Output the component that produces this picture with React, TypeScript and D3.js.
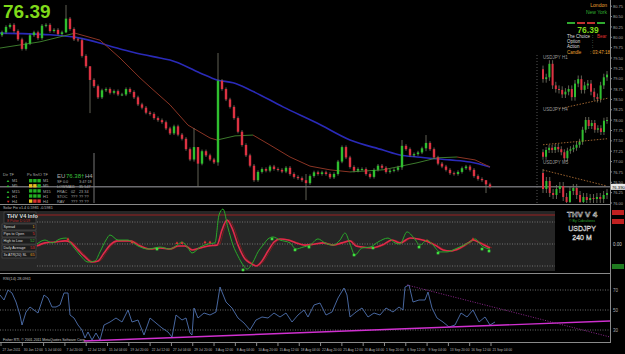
import * as d3 from "d3";

// main price candles (H4), open of first candle then closes
const firstOpen = 80.05;
const closes = [
  80.12, 80.25, 80.3, 80.15, 79.95, 79.72, 79.85, 80.05, 80.12, 79.98,
  80.28, 80.3, 80.15, 80.18, 80.08, 80.12, 80.45, 80.2, 79.95, 79.93,
  79.55, 79.3, 78.97, 78.82, 78.55, 78.72, 78.75, 78.66, 78.7, 78.62,
  78.62, 78.75, 78.68, 78.55, 78.38, 78.3, 78.18, 78.15, 78.05, 78.0,
  77.95, 77.8, 77.68, 77.85, 77.65, 77.55, 77.3, 77.05, 77.35, 76.95,
  77.25, 77.15, 77.05, 76.98, 78.95, 78.75, 78.5, 78.32, 78.05, 77.72,
  77.4, 77.15, 76.9, 76.55, 76.75, 76.82, 76.78, 76.88, 76.82, 76.8,
  76.76, 76.85, 76.7, 76.63, 76.6, 76.55, 76.48, 76.65, 76.74, 76.7,
  76.74, 76.7, 76.62, 76.7, 77.0, 77.35, 77.1, 76.87, 76.78, 76.82,
  76.82, 76.7, 76.63, 76.8, 76.9, 76.85, 76.75, 76.78, 76.8, 76.86,
  77.38, 77.3, 77.15, 77.18, 77.22, 77.32, 77.45, 77.3, 77.1, 76.95,
  76.88, 76.8, 76.72, 76.7, 76.75, 76.84, 76.88, 76.8, 76.65, 76.58,
  76.55, 76.45, 76.39,
];
// [candle, high, low] for the long shadows
const longWicks: [number, number, number][] = [
  [16, 80.78, 80.1], [22, 79.3, 78.17], [48, 77.81, 77.0], [49, 77.2, 76.39],
  [54, 79.62, 76.9], [76, 76.7, 76.07], [100, 77.52, 76.8], [106, 77.64, 77.25],
  [121, 76.55, 76.24],
];
const maSlow: [number, number][] = [
  [-0.5, 80.1], [12, 80.06], [19.5, 79.98], [26.25, 79.81], [32.75, 79.64], [39.5, 79.5],
  [42, 79.45], [49.5, 79.14], [53.75, 78.97], [57.75, 78.9], [62, 78.73], [70.25, 78.32],
  [78.75, 77.93], [87, 77.52], [95.25, 77.28], [99.5, 77.16], [103.75, 77.11], [112, 77.04],
  [117, 76.99], [122, 76.87],
];
const maFast: [number, number][] = [
  [-0.5, 79.74], [9.5, 79.89], [18.25, 80.1], [24.5, 79.93], [29.5, 79.5], [34.5, 79.02],
  [37, 78.8], [42, 78.37], [46.5, 77.88], [52, 77.57], [53.75, 77.52], [58.25, 77.62],
  [62.75, 77.64], [67, 77.4], [72, 77.11], [77, 76.89], [82, 76.8], [87, 76.75],
  [95.25, 76.8], [103.75, 76.97], [108.75, 77.09], [113.75, 77.11], [118.25, 77.04], [122, 76.87],
];
const priceTicks = d3.range(76.0, 80.8, 0.25);
const lastPrice = 76.39;

// mini charts on the right
const mini1Open = 76.72;
const mini1 = [76.61, 76.63, 76.78, 76.54, 76.5, 76.49, 76.44, 76.47, 76.5, 76.41, 76.56, 76.61, 76.49, 76.54, 76.56, 76.47, 76.41, 76.39, 76.54, 76.63, 76.66];
const mini2Open = 76.39;
const mini2 = [76.33, 76.42, 76.45, 76.42, 76.46, 76.43, 76.39, 76.31, 76.41, 76.43, 76.45, 76.49, 76.53, 76.69, 76.82, 76.74, 76.78, 76.69, 76.71, 76.66, 76.81, 76.82];
const mini3Open = 76.69;
const mini3 = [76.53, 76.61, 76.49, 76.47, 76.53, 76.56, 76.45, 76.4, 76.51, 76.54, 76.47, 76.4, 76.45, 76.42, 76.44, 76.43, 76.45, 76.43, 76.47, 76.49];

// THV oscillator, [candle, value]
const thvFast: [number, number][] = [
  [8.75, 0], [10.75, 18], [12.5, 5], [14.5, 23], [16, 27], [17.5, -5], [19.5, -50], [21.5, -82],
  [23.25, -77], [24.5, -36], [26, 18], [27, 41], [29, 18], [31.5, 18], [34, -9], [36.5, -23],
  [39.5, -14], [42, -23], [43.75, -5], [45, 9], [46.5, -18], [47.5, -41], [49.5, -14], [51.5, 0],
  [53.25, 5], [54.25, 132], [55.25, 159], [56.5, 73], [57.75, -5], [59, -55], [60.25, -95],
  [61.25, -114], [62.75, -82], [64, -36], [65.25, -5], [66.5, 23], [67.75, 32], [69.5, 18],
  [72, 5], [73.5, -23], [75.25, -14], [77, -5], [79, 23], [80.75, 5], [82.75, -5], [84.5, 18],
  [85.75, 50], [87, 0], [88.25, -50], [90, -18], [92, -14], [94, 9], [96.5, 27], [98.25, 5],
  [99.5, 0], [101.25, 55], [103, 27], [104.5, -5], [106.25, 18], [107.75, -5], [109.5, -36],
  [111.25, -36], [113.25, -23], [115, -9], [117, 9], [118.25, 23], [120, -9], [122, -23],
];
const thvSlow: [number, number][] = [
  [8.75, -9], [10.75, 5], [13.25, 9], [15.75, 14], [17, 9], [19, -27], [20.75, -59], [22.5, -82],
  [24, -77], [25.5, -41], [27, -5], [29, 14], [32, 14], [34.5, -9], [37, -23], [39.5, -18],
  [42, -23], [44, -9], [45.75, -9], [47.5, -27], [49.5, -18], [51.5, -9], [53.75, -5], [55, 64],
  [56.25, 109], [57.5, 73], [59, -5], [60.75, -68], [62, -86], [63.5, -100], [65, -77],
  [66.5, -32], [68, 9], [69.5, 23], [71.5, 18], [73.5, 5], [75.75, -5], [78.25, 0], [80.25, 5],
  [82.75, -5], [85, 5], [87, 14], [88.5, -9], [90, -14], [92.5, -18], [95, -5], [97.5, 18],
  [99.5, 5], [102, 27], [104, 23], [106, 14], [108.25, -5], [110.25, -27], [112, -32],
  [114.5, -18], [116.5, 5], [117.75, 18], [119.5, 5], [122, -18],
];
const sellMarks: [number, number][] = [[16.5, 23], [32.5, 9], [43.75, 5], [45, 5], [50.75, 9], [52, 9], [106.25, 14], [117.75, 23]];
const buyMarks: [number, number][] = [[38.75, -23], [60.25, -118], [67.5, 23], [73.25, -27], [76.75, -14], [88, -50], [92.75, -18], [104.25, -14], [109, -41], [120, -23], [121.75, -32]];

// RSI(14), [candle, value]
const rsi: [number, number][] = [
  [-0.5, 65], [0.5, 60], [1.5, 70], [2.5, 67], [3.5, 58], [4.5, 45], [5, 35], [6, 48], [7, 53],
  [8, 50], [9, 47], [10.5, 65], [11.5, 62], [12.5, 53], [13.5, 53], [14.5, 55], [15.5, 67],
  [16.5, 67], [17, 45], [18, 42], [19, 35], [20, 30], [20.75, 22], [21.5, 28], [22.5, 20],
  [23.5, 27], [24.5, 20], [25.5, 35], [27, 38], [28.5, 42], [30, 38], [31.5, 50], [32.5, 38],
  [34, 40], [35.5, 25], [37, 42], [38.5, 37], [40, 32], [41.5, 28], [42.5, 23], [43.5, 45],
  [45, 40], [46, 42], [47, 27], [47.5, 25], [48, 52], [49, 42], [50.5, 47], [52, 45], [53.5, 48],
  [54.5, 73], [55, 68], [56, 58], [57.5, 52], [59, 42], [60.5, 37], [62, 30], [63.5, 40],
  [65, 43], [66.5, 42], [68, 47], [69.5, 43], [71, 47], [72.5, 38], [74, 45], [75.5, 50],
  [76.5, 43], [78, 55], [79.5, 57], [81, 45], [82.5, 48], [84, 62], [85.5, 72], [86.25, 65],
  [87, 43], [88.5, 48], [90, 52], [91.5, 43], [93, 47], [94.5, 45], [96, 52], [97.75, 48],
  [99.25, 53], [100.25, 50], [100.75, 73], [101.75, 75], [102.75, 58], [104.25, 60],
  [105.75, 60], [106.5, 68], [107.5, 52], [108.75, 42], [110.25, 38], [111.75, 33],
  [113.25, 35], [114.75, 47], [116.25, 43], [117.75, 50], [119.25, 38], [120.75, 43],
  [122, 35], [123.25, 38],
];
const rsiSupport: [number, number][] = [[20.5, 19], [152, 39]];
const rsiResist: [number, number][] = [[101.25, 75], [152, 23]];
const rsiLevels = [70, 50, 30];

const dateLabels = [
  "27 Jun 2011", "30 Jun 12:00", "5 Jul 04:00", "7 Jul 20:00", "12 Jul 12:00", "15 Jul 04:00",
  "19 Jul 20:00", "22 Jul 12:00", "27 Jul 04:00", "29 Jul 20:00", "3 Aug 12:00", "8 Aug 04:00",
  "10 Aug 20:00", "15 Aug 12:00", "18 Aug 04:00", "22 Aug 20:00", "25 Aug 12:00", "30 Aug 04:00",
  "1 Sep 20:00", "6 Sep 12:00", "9 Sep 04:00", "13 Sep 20:00", "16 Sep 12:00", "21 Sep 04:00",
];

const tfNames = ["M1", "M5", "M15", "H1", "H4"];
const tfDots = [["g", "g", "g"], ["y", "y", "g"], ["g", "g", "g"], ["g", "g", "g"], ["y", "r", "r"]];
const statRows = [
  ["SF 0.0", "", "3:47:18"], ["LOWMA", "11", "35 547"], ["FRAC", "02", "23 34"],
  ["STOC", "???", "?? ??"], ["RAV", "???", "?? ??"],
];
const infoRows: [string, string, string][] = [
  ["Spread", "1", "#e8a020"], ["Pips to Open", "5", "#e83030"], ["High to Low", "52", "#38c038"],
  ["Daily Average", "53", "#e83030"], ["3x ATR(20) SL", "65", "#e8a020"],
];

const BULL = "#2fbf2f";
const BEAR = "#dc3242";
const GRID = "#8a8a8a";
const FONT = "Liberation Sans, Arial, sans-serif";
const dotColor: Record<string, string> = { g: "#22b022", y: "#e8c020", r: "#d83030" };

const x = d3.scaleLinear().domain([0, 122]).range([2, 490]);
const y = d3.scaleLinear().domain([76.0, 80.9]).range([203, 0]);
const yThv = d3.scaleLinear().domain([-100, 100]).range([266, 222]);
const yRsi = d3.scaleLinear().domain([30, 70]).range([330, 290]);

function Candles({ open0, data, xs, ys, w, wick }: any) {
  let prev = open0;
  return (
    <g>
      {data.map((c: number, i: number) => {
        const o = prev;
        prev = c;
        const up = c >= o;
        const lw = wick ? wick.find((d: number[]) => d[0] === i) : null;
        const hi = lw ? lw[1] : Math.max(o, c) + 0.04;
        const lo = lw ? lw[2] : Math.min(o, c) - 0.04;
        const cx = xs(i);
        const top = ys(Math.max(o, c));
        const h = Math.max(1, ys(Math.min(o, c)) - top);
        return (
          <g key={i}>
            <line x1={cx} x2={cx} y1={ys(hi)} y2={ys(lo)} stroke="#7a7a6a" strokeWidth={0.8} />
            <rect x={cx - w / 2} y={top} width={w} height={h} fill={up ? BULL : BEAR} />
          </g>
        );
      })}
    </g>
  );
}

function MiniChart({ label, top, open0, data, domain, trend }: any) {
  const xs = d3.scaleLinear().domain([0, data.length - 1]).range([543, 607]);
  const ys = d3.scaleLinear().domain(domain).range([top + 45, top]);
  return (
    <g>
      <text x={543} y={top - 3} fontSize={4.5} fill="#9a9a9a" fontFamily={FONT}>{label}</text>
      <Candles open0={open0} data={data} xs={xs} ys={ys} w={2} />
      <line x1={xs(trend[0][0])} y1={ys(trend[0][1])} x2={xs(trend[1][0])} y2={ys(trend[1][1])}
        stroke="#c07a3a" strokeWidth={0.8} strokeDasharray="1.5 1.5" />
    </g>
  );
}

export default function App() {
  const line = d3.line<[number, number]>().x((d) => x(d[0])).y((d) => y(d[1])).curve(d3.curveMonotoneX);
  const thvLine = d3.line<[number, number]>().x((d) => x(d[0])).y((d) => yThv(d[1])).curve(d3.curveMonotoneX);
  const rsiLine = d3.line<[number, number]>().x((d) => x(d[0])).y((d) => yRsi(d[1]));
  const timeX = d3.scalePoint().domain(dateLabels).range([1, 491]);

  return (
    <svg width={625} height={354} style={{ position: "absolute", left: 0, top: 0, background: "#000" }}
      fontFamily={FONT}>
      <defs>
        <clipPath id="main"><rect x={0} y={0} width={610} height={203} /></clipPath>
        <clipPath id="rsi"><rect x={0} y={274} width={610} height={68} /></clipPath>
      </defs>
      <rect width={625} height={354} fill="#000" />

      {/* main price window */}
      <g clipPath="url(#main)">
        <line x1={0} x2={610} y1={y(lastPrice)} y2={y(lastPrice)} stroke="#a0a0a8" strokeWidth={1} />
        <path d={line(maSlow) || ""} fill="none" stroke="#2a2ab8" strokeWidth={1.6} />
        {maFast.slice(1).map((p, i) => {
          const a = maFast[i];
          const seg = line([a, p]) || "";
          return <path key={i} d={seg} fill="none" stroke={p[1] >= a[1] ? "#3c7a2c" : "#8a3424"} strokeWidth={1} />;
        })}
        <Candles open0={firstOpen} data={closes} xs={x} ys={y} w={2.4} wick={longWicks} />
        <line x1={537} x2={537} y1={55} y2={203} stroke="#555" strokeDasharray="1 2" />
        <MiniChart label="USDJPY H1" top={62} open0={mini1Open} data={mini1} domain={[76.3, 76.8]} trend={[[5, 76.28], [20.5, 76.4]]} />
        <MiniChart label="USDJPY H4" top={114} open0={mini2Open} data={mini2} domain={[76.3, 76.9]} trend={[[0, 76.49], [21, 76.57]]} />
        <MiniChart label="USDJPY M5" top={167} open0={mini3Open} data={mini3} domain={[76.3, 76.75]} trend={[[0, 76.72], [19, 76.56]]} />
      </g>

      <text x={3} y={18} fontSize={19} fontWeight="bold" fill="#7fd91a">76.39</text>

      {/* top right info */}
      <text x={607} y={7} fontSize={5} fill="#e8a030" textAnchor="end">London</text>
      <text x={607} y={14} fontSize={5} fill="#30b030" textAnchor="end">New York</text>
      {["#2faa2f", "#c03030", "#c03030", "#2faa2f"].map((c, i) => (
        <rect key={i} x={567 + i * 10} y={22} width={8} height={2} fill={c} />
      ))}
      <text x={588} y={33} fontSize={8.5} fontWeight="bold" fill="#7fd91a" textAnchor="middle">76.39</text>
      <text x={567} y={38} fontSize={4.5} fill="#ddd">The Choice</text>
      <text x={592} y={38} fontSize={4.5} fill="#ddd">:</text>
      <text x={597} y={38} fontSize={4.5} fill="#e03030">Bear</text>
      <text x={567} y={43} fontSize={4.5} fill="#ddd">Option</text>
      <text x={592} y={43} fontSize={4.5} fill="#ddd">:</text>
      <text x={567} y={48} fontSize={4.5} fill="#ddd">Action</text>
      <text x={592} y={48} fontSize={4.5} fill="#ddd">:</text>
      <text x={567} y={54} fontSize={4.5} fill="#e8a030">Candle</text>
      <text x={590} y={54} fontSize={4.5} fill="#e8a030">: 03:47:18</text>

      {/* bottom-left signal table */}
      <line x1={94} x2={94} y1={153} y2={203} stroke="#777" />
      <text x={3} y={176} fontSize={4} fill="#aaa">Dir TF</text>
      <text x={27} y={176} fontSize={4} fill="#aaa">Px Sn/O TF</text>
      <text x={57} y={177.5} fontSize={6} fill="#aaa">EU</text>
      <text x={66} y={177.5} fontSize={6} fill="#3cc03c">76.38†</text>
      <text x={85} y={177.5} fontSize={6} fill="#aaa">H4</text>
      {tfNames.map((n, r) => (
        <g key={n}>
          <text x={6} y={182.3 + r * 5.1} fontSize={4} fill={r === 4 ? "#d83030" : "#2fbf2f"}>{r === 4 ? "▼" : "▲"}</text>
          <text x={12} y={182.3 + r * 5.1} fontSize={4} fill="#aaa">{n}</text>
          {tfDots[r].map((d, k) => (
            <rect key={k} x={29 + k * 4.2} y={179 + r * 5.1} width={3.4} height={3.4} fill={dotColor[d]} />
          ))}
          <text x={43} y={182.3 + r * 5.1} fontSize={4} fill="#aaa">{n}</text>
          <text x={57} y={182.5 + r * 5.1} fontSize={3.8} fill="#aaa">{statRows[r][0]}</text>
          <text x={71} y={182.5 + r * 5.1} fontSize={3.8} fill="#aaa">{statRows[r][1]}</text>
          <text x={79} y={182.5 + r * 5.1} fontSize={3.8} fill="#aaa">{statRows[r][2]}</text>
        </g>
      ))}

      {/* THV window */}
      <line x1={0} x2={610} y1={204.5} y2={204.5} stroke={GRID} />
      <text x={3} y={209.3} fontSize={3.8} fill="#bbb">Solar Fix v1.4 0.5981 -0.5981</text>
      <rect x={0} y={211} width={555} height={60} fill="#262626" />
      <line x1={37} x2={555} y1={215} y2={215} stroke="#9a2020" />
      {[100, 0, -100].map((v) => (
        <line key={v} x1={37} x2={555} y1={yThv(v)} y2={yThv(v)} stroke="#707070" strokeDasharray="1 1.5" />
      ))}
      <rect x={4} y={212} width={32} height={11} fill="#1a1a1a" stroke="#555" strokeWidth={0.6} />
      <text x={7} y={218} fontSize={5.5} fontWeight="bold" fill="#ddd">THV V4 Info</text>
      <text x={7} y={222} fontSize={3.5} fill="#c03030">8 Pulse D 0.59</text>
      {infoRows.map((r, i) => (
        <g key={r[0]}>
          <rect x={2} y={224 + i * 7} width={34} height={6} fill="#1c1c1c" stroke="#555" strokeWidth={0.6} />
          <text x={3.5} y={228.3 + i * 7} fontSize={3.6} fill="#ddd">{r[0]}</text>
          <text x={34.5} y={228.3 + i * 7} fontSize={3.8} fill={r[2]} textAnchor="end">{r[1]}</text>
        </g>
      ))}
      <path d={thvLine(thvSlow) || ""} fill="none" stroke="#8a1a1a" strokeWidth={0.8} transform="translate(2,0)" />
      <path d={thvLine(thvSlow) || ""} fill="none" stroke="#e02a4a" strokeWidth={1.6} />
      <path d={thvLine(thvFast) || ""} fill="none" stroke="#2aa82a" strokeWidth={1} />
      {sellMarks.map((m, i) => (
        <path key={i} d={`M${x(m[0]) - 1.6},${yThv(m[1]) + 1.2}L${x(m[0])},${yThv(m[1]) - 1.6}L${x(m[0]) + 1.6},${yThv(m[1]) + 1.2}Z`} fill="#e03030" />
      ))}
      {buyMarks.map((m, i) => (
        <rect key={i} x={x(m[0]) - 1.3} y={yThv(m[1]) - 1.3} width={2.6} height={2.6} fill="#3ee03e" />
      ))}
      <text x={582} y={217} fontSize={8} fontWeight="bold" fill="none" stroke="#ddd" strokeWidth={0.5} textAnchor="middle">THV V 4</text>
      <text x={582} y={222} fontSize={3.5} fill="#2fa82f" textAnchor="middle">© By Cobraforex</text>
      <text x={582} y={231} fontSize={7} fill="none" stroke="#ddd" strokeWidth={0.45} textAnchor="middle">USDJPY</text>
      <text x={582} y={240} fontSize={7} fill="none" stroke="#ddd" strokeWidth={0.45} textAnchor="middle">240 M</text>
      <rect x={612} y={210} width={12} height={5} fill="#c02020" />
      <rect x={612} y={219} width={12} height={5} fill="#c02020" />
      <text x={613} y={246} fontSize={4.5} fill="#ccc">0.00</text>
      <rect x={612} y={264} width={12} height={5} fill="#1f7a1f" />

      {/* RSI window */}
      <line x1={0} x2={610} y1={273.5} y2={273.5} stroke={GRID} />
      <text x={3} y={279.5} fontSize={3.8} fill="#bbb">RSI(14) 28.0961</text>
      {rsiLevels.map((v) => (
        <g key={v}>
          <line x1={0} x2={610} y1={yRsi(v)} y2={yRsi(v)} stroke="#6a6a6a" strokeDasharray="1 1.5" />
          <text x={613} y={yRsi(v) + 2} fontSize={4.5} fill="#aaa">{v}</text>
        </g>
      ))}
      <g clipPath="url(#rsi)">
        <path d={rsiLine(rsi) || ""} fill="none" stroke="#4f72b0" strokeWidth={0.9} />
        <path d={rsiLine(rsiSupport) || ""} fill="none" stroke="#d030d0" strokeWidth={1.4} />
        <path d={rsiLine(rsiResist) || ""} fill="none" stroke="#b030b0" strokeWidth={0.8} strokeDasharray="1 1.5" />
      </g>
      <text x={3} y={340.5} fontSize={3.5} fill="#ccc">Fisher RTI, © 2001-2011 MetaQuotes Software Corp.</text>

      {/* time axis */}
      <line x1={0} x2={610} y1={342.5} y2={342.5} stroke={GRID} />
      {dateLabels.map((d) => (
        <g key={d}>
          <line x1={timeX(d)} x2={timeX(d)} y1={343} y2={346} stroke={GRID} />
          <text x={(timeX(d) || 0) + 1.5} y={350.5} fontSize={3.3} fill="#bbb">{d}</text>
        </g>
      ))}

      {/* price axis */}
      <line x1={610.5} x2={610.5} y1={0} y2={343} stroke={GRID} />
      {priceTicks.map((v) => (
        <g key={v}>
          <line x1={610} x2={612} y1={y(v)} y2={y(v)} stroke={GRID} />
          <text x={613} y={y(v) + 1.6} fontSize={4} fill="#aaa">{v.toFixed(2)}</text>
        </g>
      ))}
      <rect x={611} y={y(lastPrice) - 3} width={14} height={6} fill="#e8e8e8" />
      <text x={612} y={y(lastPrice) + 1.8} fontSize={4.2} fill="#000">{lastPrice.toFixed(3)}</text>
    </svg>
  );
}
